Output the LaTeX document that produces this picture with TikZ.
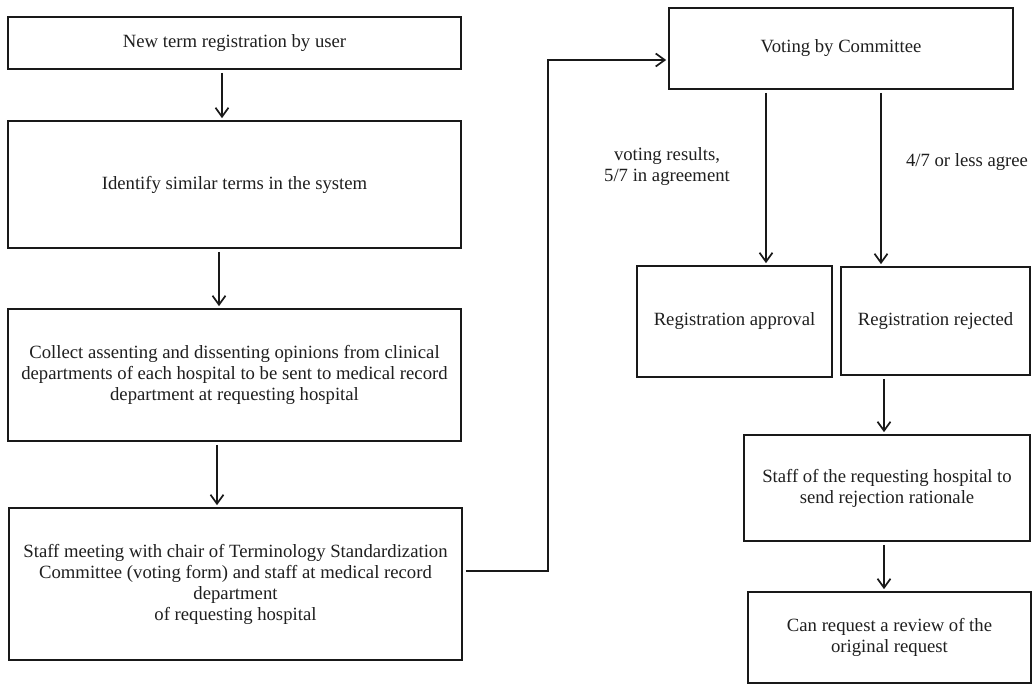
\documentclass[tikz,border=0pt]{standalone}
\usepackage{fontspec}
\setmainfont{Liberation Serif}
\usetikzlibrary{arrows.meta}
\begin{document}
\begin{tikzpicture}[x=1pt,y=-1pt,
  every node/.style={font=\fontsize{18.7}{21}\selectfont, text=black!88},
  box/.style={draw=black!90, line width=1.7pt, inner sep=0pt, align=center},
  lbl/.style={align=center, inner sep=0pt},
  arr/.style={draw=black!90, line width=1.7pt, -{Straight Barb[length=9pt,width=13pt,line width=1.7pt]}, shorten >=2pt, shorten <=3pt}]
\useasboundingbox (0,0) rectangle (1032,684);
\fill[white] (0,0) rectangle (1032,684);

% left column
\node[box, minimum width=453pt, minimum height=52pt] (b1) at (234.5,43) {New term registration by user};
\node[box, minimum width=453pt, minimum height=127pt] (b2) at (234.5,184.5) {Identify similar terms in the system};
\node[box, minimum width=453pt, minimum height=132pt] (b3) at (234.5,375)
  {Collect assenting and dissenting opinions from clinical\\departments of each hospital to be sent to medical record\\department at requesting hospital};
\node[box, minimum width=453pt, minimum height=152pt] (b4) at (235.5,584)
  {Staff meeting with chair of Terminology Standardization\\Committee (voting form) and staff at medical record\\department\\of requesting hospital};

% right side
\node[box, minimum width=344pt, minimum height=81pt] (vote) at (841,48.5) {Voting by Committee};
\node[box, minimum width=195pt, minimum height=111pt] (appr) at (734.5,321.5) {Registration approval};
\node[box, minimum width=189pt, minimum height=108pt] (rej) at (935.5,321) {Registration rejected};
\node[box, minimum width=286pt, minimum height=106pt] (staff) at (887,488) {Staff of the requesting hospital to\\send rejection rationale};
\node[box, minimum width=283pt, minimum height=91pt] (review) at (889.5,637.5) {Can request a review of the\\original request};

% branch labels
\node[lbl] (yes) at (667,167) {voting results,\\5/7 in agreement};
\node[lbl] (no) at (967,162) {4/7 or less agree};

% connectors
\draw[arr] ([xshift=-12.5pt]b1.south) -- ([xshift=-12.5pt]b2.north);
\draw[arr] ([xshift=-15.5pt]b2.south) -- ([xshift=-15.5pt]b3.north);
\draw[arr] ([xshift=-17.5pt]b3.south) -- ([xshift=-18.5pt]b4.north);
\draw[arr] ([yshift=13pt]b4.east) -| ([xshift=-120pt,yshift=-11.5pt]vote.west) -- ([yshift=-11.5pt]vote.west);
\draw[arr] ([xshift=-75pt]vote.south) -- ([xshift=-75pt]vote.south |- appr.north);
\draw[arr] ([xshift=40pt]vote.south) -- ([xshift=40pt]vote.south |- rej.north);
\draw[arr] ([xshift=-3pt]staff.north |- rej.south) -- ([xshift=-3pt]staff.north);
\draw[arr] ([xshift=-3pt]staff.south) -- ([xshift=-3pt]staff.south |- review.north);
\end{tikzpicture}
\end{document}
